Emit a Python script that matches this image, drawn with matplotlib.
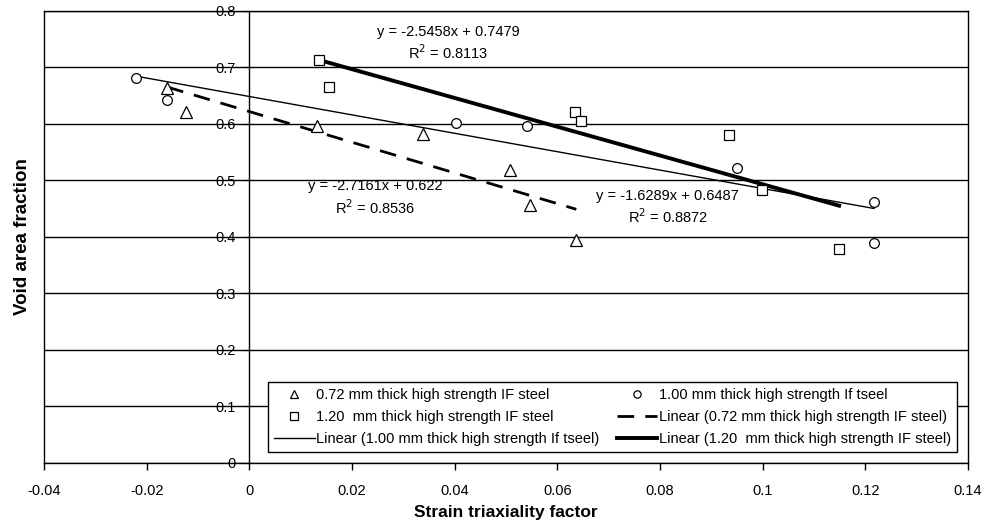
import numpy as np
import matplotlib.pyplot as plt

plt.rcParams['font.family'] = ['Liberation Sans', 'DejaVu Sans']

# 0.72 mm thick high strength IF steel
x_072 = [-0.016, -0.0123, 0.0132, 0.0339, 0.0508, 0.0547, 0.0637]
y_072 = [0.663, 0.622, 0.597, 0.583, 0.518, 0.456, 0.395]
# 1.00 mm
x_100 = [-0.022, -0.016, 0.0403, 0.054, 0.095, 0.1217, 0.1217]
y_100 = [0.682, 0.643, 0.601, 0.596, 0.522, 0.462, 0.389]
# 1.20 mm
x_120 = [0.0136, 0.0156, 0.0635, 0.0647, 0.0935, 0.0999, 0.1149]
y_120 = [0.714, 0.666, 0.622, 0.606, 0.580, 0.483, 0.379]

# trendline coefficients (slope, intercept) as printed on chart
fit_072 = (-2.7161, 0.622)
fit_100 = (-1.6289, 0.6487)
fit_120 = (-2.5458, 0.7479)

labels = ['0.72 mm thick high strength IF steel',
          '1.00 mm thick high strength If tseel',
          '1.20  mm thick high strength IF steel']

fig = plt.figure(figsize=(9.93, 5.26), dpi=100)
ax = fig.add_axes([0.0443, 0.1198, 0.9305, 0.8593])

ax.set_xlim(-0.04, 0.14)
ax.set_ylim(0, 0.8)
ax.set_xticks(np.arange(-0.04, 0.141, 0.02))
ax.set_xticklabels(['-0.04', '-0.02', '0', '0.02', '0.04', '0.06', '0.08', '0.1', '0.12', '0.14'])
ax.set_yticks(np.arange(0, 0.81, 0.1))
ax.set_yticklabels(['0', '0.1', '0.2', '0.3', '0.4', '0.5', '0.6', '0.7', '0.8'])
ax.yaxis.grid(True, color='black', linewidth=1.0)
ax.set_axisbelow(True)

# y axis crosses at x = 0, Excel style; outer frame kept at x = -0.04
ax.spines['left'].set_position(('data', 0))
ax.plot([-0.04, -0.04], [0, 0.8], color='black', linewidth=1.0, clip_on=False, zorder=5)
ax.tick_params(axis='y', direction='out', length=4, pad=6, labelsize=10.5)
ax.tick_params(axis='x', direction='out', length=5, width=1, labelsize=10.5, pad=10)
for s in ax.spines.values():
    s.set_linewidth(1.0)
    s.set_color('black')

h_tri, = ax.plot(x_072, y_072, linestyle='none', marker='^', markersize=8,
                 markerfacecolor='white', markeredgecolor='black', markeredgewidth=0.9, zorder=4)
h_cir, = ax.plot(x_100, y_100, linestyle='none', marker='o', markersize=7,
                 markerfacecolor='white', markeredgecolor='black', markeredgewidth=0.9, zorder=4)
h_sq, = ax.plot(x_120, y_120, linestyle='none', marker='s', markersize=7.5,
                markerfacecolor='white', markeredgecolor='black', markeredgewidth=0.9, zorder=4)

xx = np.linspace(min(x_072), max(x_072), 2)
h_l072, = ax.plot(xx, np.polyval(fit_072, xx), color='black', linewidth=2.0,
                  dashes=(6, 4), zorder=3)
xx = np.linspace(min(x_100), max(x_100), 2)
h_l100, = ax.plot(xx, np.polyval(fit_100, xx), color='black', linewidth=1.0, zorder=3)
xx = np.linspace(min(x_120), max(x_120), 2)
h_l120, = ax.plot(xx, np.polyval(fit_120, xx), color='black', linewidth=2.8, zorder=3)

ax.text(0.0388, 0.762, 'y = -2.5458x + 0.7479', ha='center', va='center', fontsize=10.5)
ax.text(0.0388, 0.726, 'R$^2$ = 0.8113', ha='center', va='center', fontsize=10.5)
ax.text(0.0245, 0.491, 'y = -2.7161x + 0.622', ha='center', va='center', fontsize=10.5)
ax.text(0.0245, 0.452, 'R$^2$ = 0.8536', ha='center', va='center', fontsize=10.5)
ax.text(0.0815, 0.473, 'y = -1.6289x + 0.6487', ha='center', va='center', fontsize=10.5)
ax.text(0.0815, 0.436, 'R$^2$ = 0.8872', ha='center', va='center', fontsize=10.5)

ax.set_xlabel('Strain triaxiality factor', fontsize=12.5, fontweight='bold', labelpad=5)
ax.set_ylabel('Void area fraction', fontsize=13.5, fontweight='bold')
ax.yaxis.set_label_coords(-0.014, 0.5)

handles = [h_tri, h_sq, h_l100, h_cir, h_l072, h_l120]
names = [labels[0], labels[2], 'Linear (' + labels[1] + ')',
         labels[1], 'Linear (' + labels[0] + ')', 'Linear (' + labels[2] + ')']
leg = ax.legend(handles, names, ncol=2, loc='lower left', mode='expand',
                bbox_to_anchor=(0.2424, 0.024, 0.7456, 0.162), borderaxespad=0,
                fontsize=10.5, frameon=True, fancybox=False, edgecolor='black',
                framealpha=1, handlelength=2.8, handletextpad=0.1, borderpad=0.4,
                labelspacing=0.55, columnspacing=1.0, markerscale=0.75)
leg.get_frame().set_linewidth(1.0)

fig.savefig('out.png', dpi=100)
